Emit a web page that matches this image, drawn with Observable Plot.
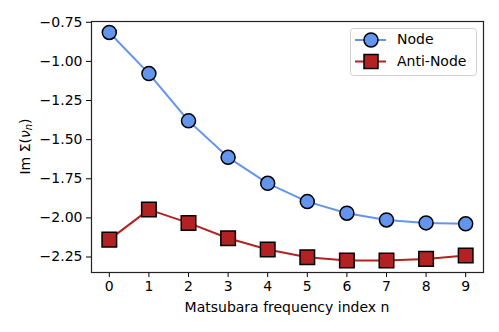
<!DOCTYPE html>
<html><head><meta charset="utf-8">
<script src="https://cdn.jsdelivr.net/npm/d3@7"></script>
<script src="https://cdn.jsdelivr.net/npm/@observablehq/plot@0.6"></script>
<style>
body{margin:0;background:#fff;}
#wrap{position:relative;width:499px;height:332px;font-family:"DejaVu Sans",sans-serif;}
</style>
</head><body><div id="wrap"></div>
<script>
const indices = [0, 1, 2, 3, 4, 5, 6, 7, 8, 9];
const nodeValues = [-0.815, -1.078, -1.38, -1.613, -1.779, -1.896, -1.97, -2.013, -2.032, -2.038];
const antiNodeValues = [-2.139, -1.947, -2.032, -2.13, -2.202, -2.252, -2.273, -2.273, -2.262, -2.241];
const yTicks = [-2.25, -2.0, -1.75, -1.5, -1.25, -1.0, -0.75];
const xTicks = [0, 1, 2, 3, 4, 5, 6, 7, 8, 9];
const seriesNames = ["Node", "Anti-Node"];
const seriesColors = ["#6495ED", "#B22222"];
const seriesSymbols = ["circle", "square"];
const xLabel = "Matsubara frequency index n";

const node = indices.map((n, i) => ({n, v: nodeValues[i]}));
const anti = indices.map((n, i) => ({n, v: antiNodeValues[i]}));

const W = 499, H = 332;
const mL = 91, mR = 16, mT = 21, mB = 60;

const chart = Plot.plot({
  width: W, height: H,
  marginLeft: mL, marginRight: mR, marginTop: mT, marginBottom: mB,
  style: {fontFamily: "DejaVu Sans, sans-serif", fontSize: "14px", color: "#000", background: "#fff", overflow: "visible"},
  x: {domain: [-0.45, 9.45]},
  y: {domain: [-2.349, -0.745]},
  marks: [
    Plot.axisX({ticks: xTicks, tickSize: 5, tickPadding: 4, tickFormat: d => String(d), label: null, stroke: "#000", fontSize: 14}),
    Plot.axisY({ticks: yTicks, tickSize: 5, tickPadding: 4, tickFormat: d3.format(".2f"), label: null, stroke: "#000", fontSize: 14}),
    Plot.line(node, {x: "n", y: "v", stroke: seriesColors[0], strokeWidth: 2}),
    Plot.line(anti, {x: "n", y: "v", stroke: seriesColors[1], strokeWidth: 2}),
    Plot.dot(node, {x: "n", y: "v", r: 7, symbol: seriesSymbols[0], fill: seriesColors[0], stroke: "#000", strokeWidth: 1.5}),
    Plot.dot(anti, {x: "n", y: "v", r: 8.2, symbol: seriesSymbols[1], fill: seriesColors[1], stroke: "#000", strokeWidth: 1.5}),
    Plot.frame({stroke: "#222", strokeWidth: 1.2})
  ]
});
document.getElementById("wrap").appendChild(chart);

const svg = d3.select(chart);
svg.selectAll("g[aria-label$='tick label'] text")
  .style("font-size", "14px").style("font-family", "DejaVu Sans, sans-serif");

// x label
svg.append("text")
  .attr("x", mL + (W - mL - mR) / 2).attr("y", 308)
  .attr("text-anchor", "middle").attr("dominant-baseline", "middle")
  .style("font-size", "14px").attr("fill", "#000")
  .text(xLabel);
// y label: Im Σ(ν_n)
const yl = svg.append("text")
  .attr("transform", `translate(26,${mT + (H - mT - mB) / 2}) rotate(-90)`)
  .attr("text-anchor", "middle").attr("dominant-baseline", "middle")
  .style("font-size", "14px").attr("fill", "#000");
yl.append("tspan").text("Im Σ(");
yl.append("tspan").attr("font-style", "italic").text("ν");
yl.append("tspan").attr("font-style", "italic").style("font-size", "10px").attr("dy", 3).text("n");
yl.append("tspan").attr("dy", -3).text(")");

// legend
const lg = svg.append("g");
lg.append("rect").attr("x", 350.5).attr("y", 28.5).attr("width", 126).attr("height", 47)
  .attr("rx", 3).attr("fill", "rgba(255,255,255,0.8)").attr("stroke", "#d0d0d0");
seriesNames.forEach((name, i) => {
  const cy = 40 + i * 21.5;
  lg.append("line").attr("x1", 355).attr("x2", 386).attr("y1", cy).attr("y2", cy)
    .attr("stroke", seriesColors[i]).attr("stroke-width", 2);
  if (seriesSymbols[i] === "circle") {
    lg.append("circle").attr("cx", 371).attr("cy", cy).attr("r", 7)
      .attr("fill", seriesColors[i]).attr("stroke", "#000").attr("stroke-width", 1.5);
  } else {
    lg.append("rect").attr("x", 364).attr("y", cy - 7).attr("width", 14).attr("height", 14)
      .attr("fill", seriesColors[i]).attr("stroke", "#000").attr("stroke-width", 1.5);
  }
  lg.append("text").attr("x", 397).attr("y", cy).attr("text-anchor", "start").attr("dominant-baseline", "middle")
    .style("font-size", "14px").attr("fill", "#000").text(name);
});
</script>
</body></html>
